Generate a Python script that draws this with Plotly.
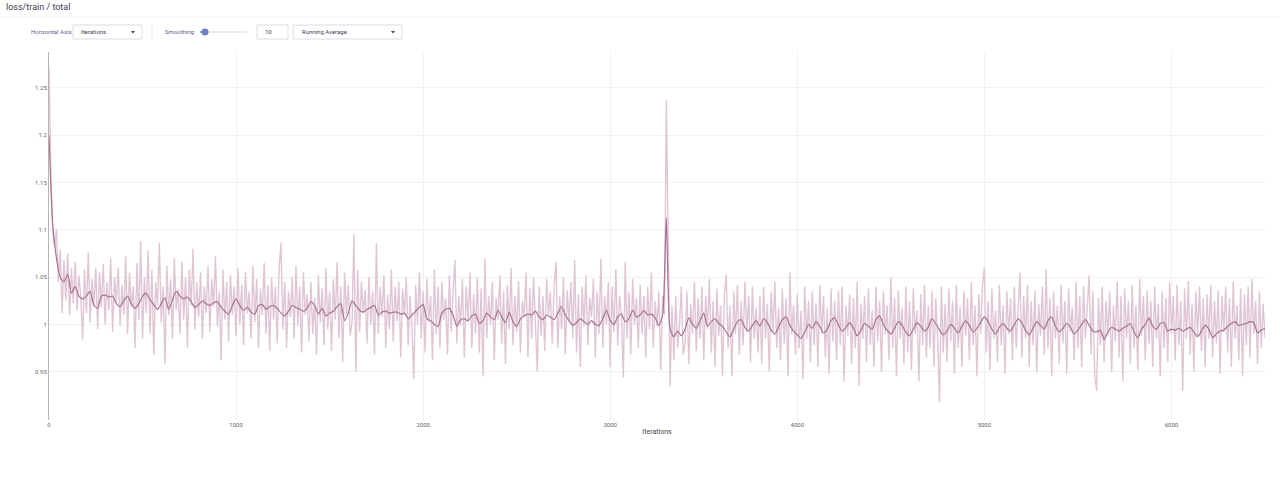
import plotly.graph_objects as go

# ---------------- data ----------------
raw_step = 10
raw_loss = [
    1.272, 1.160, 1.098, 1.082, 1.101, 1.045, 1.079, 1.012, 1.068, 1.025,
    1.075, 1.010, 1.060, 1.022, 1.066, 1.015, 1.052, 1.030, 0.984, 1.058,
    1.012, 1.076, 1.002, 1.048, 1.020, 1.060, 0.995, 1.055, 1.018, 1.064,
    1.000, 1.045, 1.015, 1.070, 0.992, 1.050, 1.024, 1.060, 0.998, 1.042,
    1.010, 1.072, 0.990, 1.055, 1.018, 1.040, 0.975, 1.065, 1.005, 1.088,
    0.985, 1.050, 1.012, 1.078, 0.990, 1.058, 0.968, 1.045, 1.020, 1.086,
    1.002, 1.040, 0.958, 1.062, 1.010, 1.048, 0.985, 1.070, 1.015, 1.038,
    0.990, 1.066, 1.005, 1.050, 0.975, 1.058, 1.020, 1.080, 0.995, 1.045,
    1.008, 1.055, 0.985, 1.040, 1.012, 1.062, 0.992, 1.048, 1.018, 1.072,
    0.998, 1.035, 0.962, 1.058, 1.005, 1.045, 0.982, 1.052, 1.010, 1.040,
    0.988, 1.060, 1.000, 1.042, 0.978, 1.056, 1.012, 1.035, 0.985, 1.062,
    1.002, 1.048, 0.975, 1.038, 1.010, 1.065, 0.990, 1.042, 0.972, 1.050,
    1.005, 1.040, 0.980, 1.058, 1.086, 0.995, 1.045, 0.975, 1.035, 1.008,
    1.050, 0.985, 1.062, 0.998, 1.040, 0.970, 1.055, 1.010, 1.032, 0.982,
    1.045, 0.990, 1.028, 0.968, 1.052, 1.002, 1.038, 0.978, 1.060, 0.995,
    1.035, 0.972, 1.048, 1.005, 1.066, 0.985, 1.040, 0.960, 1.055, 1.010,
    1.042, 0.988, 1.003, 1.095, 0.950, 1.058, 0.992, 1.045, 1.012, 1.036,
    0.980, 1.050, 1.000, 1.035, 0.968, 1.086, 0.990, 1.040, 1.008, 1.052,
    0.975, 1.032, 0.995, 1.058, 0.982, 1.040, 1.003, 1.045, 0.965, 1.038,
    1.010, 1.050, 0.978, 1.030, 0.996, 0.942, 1.042, 1.000, 1.055, 0.985,
    1.035, 0.970, 1.048, 1.002, 1.030, 0.962, 1.058, 0.990, 1.040, 0.975,
    1.045, 1.005, 1.028, 0.968, 1.052, 0.992, 1.036, 1.068, 0.980, 1.030,
    0.998, 1.048, 0.965, 1.040, 1.002, 1.055, 0.975, 1.032, 0.990, 1.050,
    0.970, 1.038, 0.945, 1.070, 0.985, 1.030, 1.000, 1.045, 0.962, 1.028,
    1.005, 1.052, 0.980, 1.035, 0.958, 1.042, 0.995, 1.060, 0.978, 1.030,
    0.992, 1.046, 0.970, 1.025, 1.008, 1.055, 0.965, 1.038, 0.985, 1.050,
    1.002, 0.950, 1.040, 0.988, 1.030, 0.972, 1.048, 1.010, 1.035, 0.980,
    1.042, 1.066, 0.975, 1.030, 0.995, 1.050, 0.968, 1.036, 1.002, 1.045,
    0.985, 1.068, 0.970, 1.032, 0.955, 1.040, 0.998, 1.052, 0.978, 1.028,
    1.008, 1.048, 0.965, 1.035, 0.990, 1.070, 0.975, 1.030, 1.000, 1.045,
    0.955, 1.040, 0.992, 1.058, 0.978, 1.030, 1.010, 0.944, 1.066, 0.985,
    1.035, 0.968, 1.048, 1.000, 1.028, 0.975, 1.042, 0.990, 1.030, 0.965,
    1.040, 0.995, 1.055, 0.975, 1.025, 0.998, 1.035, 0.952, 1.030, 1.010,
    1.237, 1.060, 0.935, 1.020, 0.962, 1.030, 0.975, 0.998, 1.040, 0.968,
    0.980, 1.035, 0.958, 1.022, 0.990, 1.045, 0.972, 1.028, 0.985, 1.040,
    0.962, 1.030, 0.995, 1.048, 0.970, 1.025, 0.955, 1.038, 0.988, 1.020,
    0.945, 1.032, 1.053, 0.975, 1.020, 0.945, 1.035, 0.990, 1.042, 0.968,
    1.025, 0.978, 1.045, 0.992, 1.030, 0.960, 1.040, 0.985, 1.018, 0.970,
    1.030, 0.958, 1.040, 0.985, 1.022, 0.950, 1.035, 0.992, 1.045, 0.975,
    1.018, 0.962, 1.038, 0.980, 1.028, 0.945, 1.055, 0.990, 1.020, 0.968,
    1.032, 0.975, 1.015, 0.942, 1.040, 0.985, 1.025, 0.960, 1.035, 0.978,
    1.022, 0.955, 1.042, 0.990, 1.030, 0.965, 1.018, 0.948, 1.038, 0.982,
    1.025, 0.962, 1.035, 0.978, 1.040, 0.940, 1.020, 0.988, 1.032, 0.958,
    1.028, 0.975, 1.045, 0.935, 1.022, 0.985, 1.030, 0.960, 1.038, 0.978,
    1.015, 0.955, 1.040, 0.982, 1.025, 0.950, 1.035, 0.990, 1.020, 0.962,
    1.050, 0.975, 1.028, 0.945, 1.036, 0.985, 1.018, 0.958, 1.040, 0.970,
    1.025, 0.952, 1.038, 0.990, 1.015, 0.940, 1.032, 0.978, 1.042, 0.965,
    1.020, 0.975, 1.035, 0.955, 1.028, 0.985, 0.918, 1.040, 0.970, 1.022,
    0.960, 1.038, 0.982, 1.025, 0.948, 1.042, 0.975, 1.018, 0.955, 1.035,
    0.988, 1.028, 0.962, 1.045, 0.978, 1.020, 0.945, 1.032, 0.990, 1.040,
    1.060, 0.970, 1.025, 0.952, 1.038, 0.985, 1.015, 0.960, 1.042, 0.978,
    1.020, 0.948, 1.035, 0.990, 1.028, 0.962, 1.040, 0.975, 1.018, 1.055,
    0.965, 1.030, 0.985, 1.042, 0.955, 1.025, 0.978, 1.036, 0.950, 1.022,
    0.988, 1.040, 0.968, 1.058, 0.975, 1.028, 0.945, 1.035, 0.985, 1.020,
    0.958, 1.042, 0.980, 1.025, 0.948, 1.038, 0.992, 1.018, 0.962, 1.045,
    0.975, 1.030, 0.955, 1.040, 0.985, 1.022, 1.052, 0.968, 1.035, 0.945,
    0.930, 1.028, 0.978, 1.040, 0.960, 1.025, 0.988, 1.035, 0.950, 1.020,
    0.982, 1.045, 0.965, 1.030, 0.940, 1.038, 0.985, 1.025, 0.958, 1.042,
    0.975, 1.020, 0.952, 1.048, 0.988, 1.030, 0.962, 1.036, 0.980, 1.025,
    0.955, 1.040, 0.985, 1.022, 0.945, 1.035, 0.975, 1.028, 0.960, 1.045,
    0.990, 1.030, 0.962, 1.042, 0.978, 1.025, 0.930, 1.038, 0.985, 1.046,
    0.968, 1.022, 0.950, 1.035, 0.988, 1.040, 0.972, 1.028, 0.955, 1.032,
    0.985, 1.042, 0.965, 1.025, 0.980, 1.036, 0.948, 1.030, 0.992, 1.040,
    0.970, 1.028, 0.955, 1.045, 0.985, 1.020, 0.962, 1.038, 0.945, 1.032,
    0.978, 1.040, 0.965, 1.048, 0.990, 1.025, 0.958, 1.035, 0.975, 1.022,
    0.985,
]

smooth_step = 20
smoothed_loss = [
    1.200, 1.105, 1.070, 1.050, 1.045, 1.053, 1.033, 1.040, 1.030, 1.027,
    1.030, 1.035, 1.020, 1.017, 1.030, 1.031, 1.029, 1.030, 1.022, 1.019,
    1.025, 1.030, 1.022, 1.017, 1.022, 1.030, 1.033, 1.026, 1.021, 1.016,
    1.022, 1.028, 1.016, 1.026, 1.035, 1.030, 1.027, 1.029, 1.024, 1.018,
    1.021, 1.025, 1.022, 1.020, 1.023, 1.024, 1.018, 1.014, 1.011, 1.020,
    1.027, 1.020, 1.015, 1.018, 1.013, 1.011, 1.020, 1.021, 1.016, 1.019,
    1.020, 1.017, 1.012, 1.009, 1.014, 1.020, 1.018, 1.016, 1.014, 1.017,
    1.024, 1.020, 1.011, 1.017, 1.009, 1.012, 1.014, 1.019, 1.022, 1.004,
    1.012, 1.025, 1.020, 1.015, 1.013, 1.016, 1.018, 1.020, 1.010, 1.013,
    1.014, 1.012, 1.013, 1.013, 1.011, 1.012, 1.006, 1.010, 1.014, 1.018,
    1.021, 1.006, 1.004, 1.000, 0.998, 1.012, 1.016, 1.017, 1.010, 0.998,
    1.005, 1.006, 1.004, 1.009, 1.011, 1.001, 1.004, 1.012, 1.008, 1.005,
    1.015, 1.008, 1.002, 1.013, 1.003, 0.998, 1.006, 1.009, 1.011, 1.010,
    1.014, 1.008, 1.005, 1.010, 1.008, 1.005, 1.012, 1.019, 1.010, 1.004,
    0.999, 1.002, 1.006, 1.003, 1.000, 1.004, 1.000, 0.999, 1.006, 1.015,
    1.004, 1.000, 1.008, 1.011, 1.003, 1.006, 1.015, 1.008, 1.010, 1.015,
    1.010, 1.011, 1.007, 0.999, 1.010, 1.113, 0.995, 0.987, 0.993, 0.988,
    0.995, 1.007, 1.000, 0.996, 1.004, 1.012, 0.998, 1.003, 1.006, 1.001,
    0.998, 0.992, 0.987, 0.995, 1.003, 1.005, 0.997, 0.993, 0.999, 1.004,
    0.998, 1.006, 1.002, 0.994, 0.990, 0.997, 1.005, 1.008, 0.999, 0.993,
    0.989, 0.985, 0.992, 1.000, 0.996, 1.003, 0.998, 0.991, 0.995, 1.004,
    1.007, 0.999, 0.993, 0.997, 1.002, 0.996, 0.988, 0.994, 1.001, 0.998,
    0.995, 1.005, 1.009, 1.000, 0.994, 0.990, 0.996, 1.003, 0.999, 0.992,
    0.988, 0.995, 1.002, 0.998, 0.993, 0.997, 1.006, 1.001, 0.994, 0.989,
    0.993, 1.000, 0.996, 0.991, 0.998, 1.004, 0.999, 0.992, 0.996, 1.002,
    1.008, 1.003, 0.995, 0.990, 0.997, 1.001, 0.996, 0.993, 1.000, 1.006,
    1.002, 0.994, 0.989, 0.996, 1.003, 0.999, 0.995, 1.004, 1.008, 0.998,
    0.992, 0.996, 1.001, 0.997, 0.990, 0.994, 1.000, 1.005, 0.999, 0.993,
    0.992, 0.994, 0.984, 0.992, 0.997, 0.995, 0.993, 0.996, 0.998, 1.001,
    0.992, 0.986, 0.995, 1.000, 1.007, 0.998, 0.995, 1.001, 1.002, 0.993,
    0.995, 0.994, 0.996, 0.993, 0.995, 0.997, 0.992, 0.987, 0.993, 0.999,
    0.995, 0.986, 0.990, 0.993, 0.994, 0.998, 1.001, 1.003, 0.999, 1.000,
    1.001, 1.003, 1.002, 0.991, 0.994, 0.996,
]

x_ticks = [0, 1000, 2000, 3000, 4000, 5000, 6000]
y_ticks = [0.95, 1.0, 1.05, 1.1, 1.15, 1.2, 1.25]

chart_title = "loss/train / total"
x_title = "Iterations"

raw_iters = [i * raw_step for i in range(len(raw_loss))]
smooth_iters = [i * smooth_step for i in range(len(smoothed_loss))]

# ---------------- layout geometry ----------------
W, H = 1280, 477
L, R, T, B = 49, 15, 52, 57
PW, PH = W - L - R, H - T - B


def px(x):
    return (x - L) / PW


def py(y):
    return (H - B - y) / PH


FONT = "Roboto, 'Noto Sans', sans-serif"

fig = go.Figure()
fig.add_trace(go.Scatter(
    x=raw_iters, y=raw_loss, mode="lines",
    line=dict(color="rgb(224,198,212)", width=1.4),
    hoverinfo="skip", showlegend=False,
))
fig.add_trace(go.Scatter(
    x=smooth_iters, y=smoothed_loss, mode="lines",
    line=dict(color="rgb(166,114,144)", width=1.2, shape="spline", smoothing=0.6),
    showlegend=False,
))

shapes = []
annotations = []

# header separator
shapes.append(dict(type="line", xref="paper", yref="paper",
                   x0=px(0), x1=px(W), y0=py(17), y1=py(17),
                   line=dict(color="#f0f1f4", width=1)))
annotations.append(dict(text=chart_title, xref="paper", yref="paper",
                        x=px(4), y=py(7), xanchor="left", yanchor="middle",
                        showarrow=False, font=dict(family=FONT, size=9, color="#3d4154")))

label_font = dict(family=FONT, size=6, color="#5d6584")
box_font = dict(family=FONT, size=6, color="#3c4156")


def box(x0, x1, y0=25, y1=39):
    shapes.append(dict(type="rect", xref="paper", yref="paper",
                       x0=px(x0), x1=px(x1), y0=py(y1), y1=py(y0),
                       line=dict(color="#d9dce4", width=1), fillcolor="white"))


def caret(cx, cy=32):
    path = (f"M {px(cx-2.2)},{py(cy-1)} L {px(cx+2.2)},{py(cy-1)} "
            f"L {px(cx)},{py(cy+1.4)} Z")
    shapes.append(dict(type="path", xref="paper", yref="paper", path=path,
                       fillcolor="#4a4f63", line=dict(width=0)))


def text(t, x, y=32, font=label_font):
    annotations.append(dict(text=t, xref="paper", yref="paper", x=px(x), y=py(y),
                            xanchor="left", yanchor="middle", showarrow=False, font=font))


text("Horizontal Axis", 29)
box(73, 142)
text("Iterations", 79, font=box_font)
caret(133)
shapes.append(dict(type="line", xref="paper", yref="paper",
                   x0=px(152), x1=px(152), y0=py(24), y1=py(40),
                   line=dict(color="#e3e5ea", width=1)))
text("Smoothing", 163)
shapes.append(dict(type="line", xref="paper", yref="paper",
                   x0=px(200), x1=px(247), y0=py(32), y1=py(32),
                   line=dict(color="#e2e4ea", width=1.5)))
shapes.append(dict(type="line", xref="paper", yref="paper",
                   x0=px(200), x1=px(205), y0=py(32), y1=py(32),
                   line=dict(color="#7282c6", width=1.5)))
shapes.append(dict(type="circle", xref="paper", yref="paper",
                   x0=px(201.5), x1=px(208.5), y0=py(35.5), y1=py(28.5),
                   fillcolor="#6f80c4", line=dict(width=0)))
box(257, 288)
text("10", 263, font=box_font)
box(293, 402)
text("Running Average", 300, font=box_font)
caret(393)

fig.update_layout(
    width=W, height=H,
    margin=dict(l=L, r=R, t=T, b=B),
    paper_bgcolor="white", plot_bgcolor="white",
    font=dict(family=FONT, size=6, color="#555"),
    shapes=shapes, annotations=annotations,
    showlegend=False, hovermode=False,
    xaxis=dict(range=[0, 6500], tickvals=x_ticks, showgrid=True, gridcolor="#f1f1f3",
               zeroline=False, showline=False, ticks="",
               tickfont=dict(size=6, color="#666"),
               title=dict(text=x_title, font=dict(size=7, color="#444"), standoff=2)),
    yaxis=dict(range=[0.899, 1.288], tickvals=y_ticks, showgrid=True, gridcolor="#f1f1f3",
               zeroline=False, showline=True, linecolor="#b5b5b5", linewidth=1, ticks="",
               tickfont=dict(size=6, color="#666")),
)

fig.write_html(
    "out.html",
    config={"displayModeBar": False},
    post_script="document.body.style.margin='0';document.body.style.overflow='hidden';",
)
